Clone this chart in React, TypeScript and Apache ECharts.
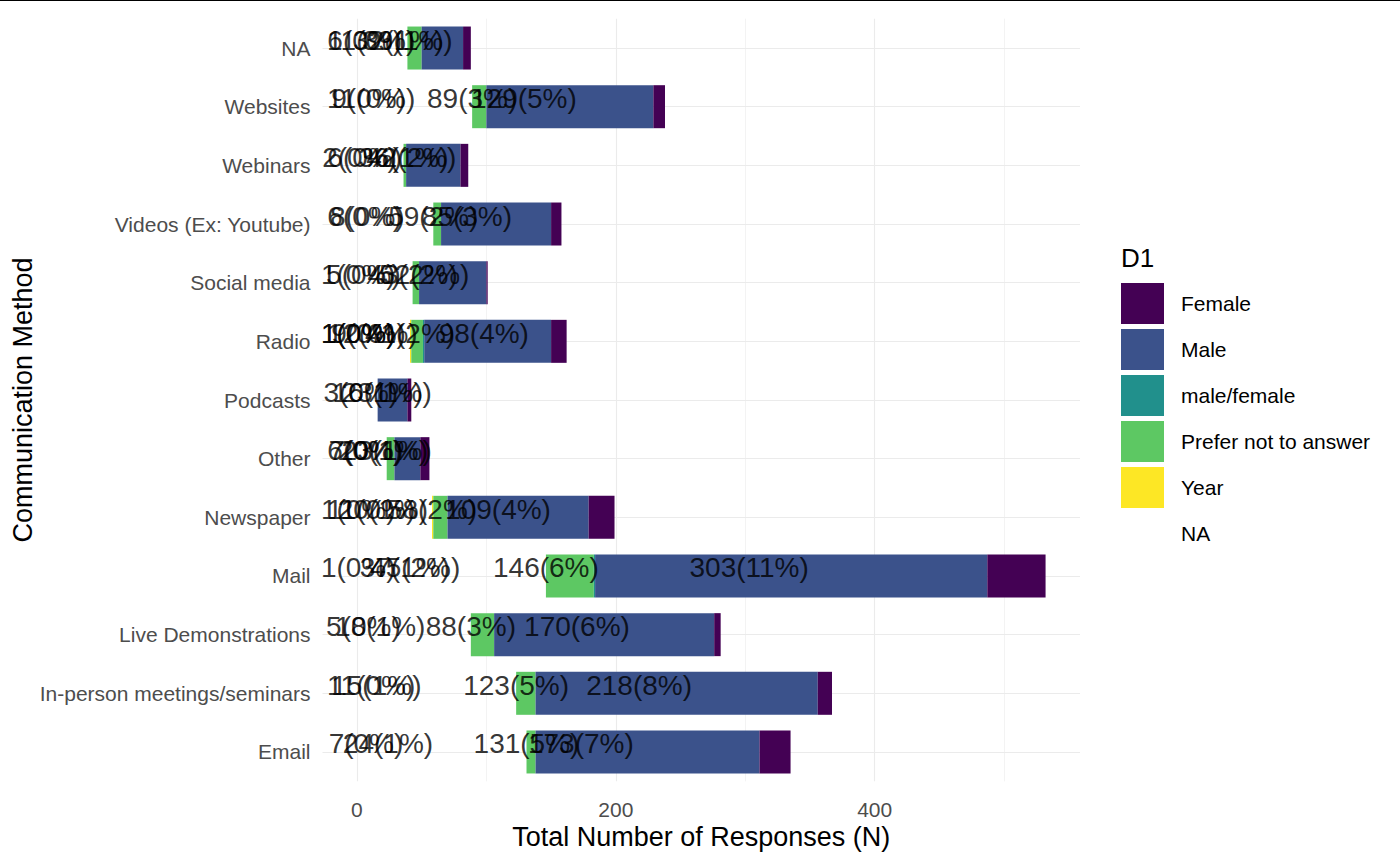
import React, { useEffect, useRef } from "react";
import * as echarts from "echarts";

// Categories, bottom to top
const categories = [
  "Email",
  "In-person meetings/seminars",
  "Live Demonstrations",
  "Mail",
  "Newspaper",
  "Other",
  "Podcasts",
  "Radio",
  "Social media",
  "Videos (Ex: Youtube)",
  "Webinars",
  "Websites",
  "NA",
];

// Counts per D1 group (stacked left to right: NA, Year, Prefer, male/female, Male, Female)
const naCounts = [131, 123, 88, 146, 58, 23, 16, 41, 43, 59, 36, 89, 39];
const yearCounts = [0, 0, 0, 0, 1, 0, 0, 1, 0, 0, 0, 0, 0];
const preferCounts = [7, 15, 18, 37, 11, 6, 0, 9, 5, 6, 2, 11, 11];
const mfCounts = [0, 0, 0, 1, 0, 0, 0, 1, 0, 0, 0, 0, 0];
const maleCounts = [173, 218, 170, 303, 109, 20, 23, 98, 52, 85, 42, 129, 32];
const femaleCounts = [24, 11, 5, 45, 20, 7, 3, 12, 1, 8, 6, 9, 6];

// Percent labels per group
const naPct = [5, 5, 3, 6, 2, 1, 1, 2, 2, 2, 1, 3, 1];
const yearPct = [0, 0, 0, 0, 0, 0, 0, 0, 0, 0, 0, 0, 0];
const preferPct = [0, 1, 1, 1, 0, 0, 0, 0, 0, 0, 0, 0, 0];
const mfPct = [0, 0, 0, 0, 0, 0, 0, 0, 0, 0, 0, 0, 0];
const malePct = [7, 8, 6, 11, 4, 1, 1, 4, 2, 3, 2, 5, 1];
const femalePct = [1, 0, 0, 2, 1, 0, 0, 0, 0, 0, 0, 0, 0];

const xTickLabels = [0, 200, 400];
const xMinorGrid = [100, 300, 500];
const legendOrder = ["Female", "Male", "male/female", "Prefer not to answer", "Year", "NA"];

const FONT = 'Arial, "Liberation Sans", Helvetica, sans-serif';

const groups = [
  { name: "NA", counts: naCounts, pcts: naPct, color: "rgba(0,0,0,0)" },
  { name: "Year", counts: yearCounts, pcts: yearPct, color: "#FDE725" },
  { name: "Prefer not to answer", counts: preferCounts, pcts: preferPct, color: "#5DC863" },
  { name: "male/female", counts: mfCounts, pcts: mfPct, color: "#21908C" },
  { name: "Male", counts: maleCounts, pcts: malePct, color: "#3B528B" },
  { name: "Female", counts: femaleCounts, pcts: femalePct, color: "#440154" },
];

export default function App() {
  const ref = useRef<HTMLDivElement>(null);

  useEffect(() => {
    if (!ref.current) return;
    const chart = echarts.init(ref.current, null, { renderer: "svg" });

    const gridColor = "#EBEBEB";
    const markData: any[] = [
      ...xTickLabels.map((v) => ({ xAxis: v, lineStyle: { width: 1.1, color: gridColor, type: "solid" } })),
      ...xMinorGrid.map((v) => ({ xAxis: v, lineStyle: { width: 0.6, color: gridColor, type: "solid" } })),
      ...categories.map((c) => ({ yAxis: c, lineStyle: { width: 1.1, color: gridColor, type: "solid" } })),
    ];

    const barSeries = groups.map((g, gi) => ({
      type: "bar",
      name: g.name,
      stack: "total",
      barWidth: 43,
      silent: true,
      z: 2,
      itemStyle: { color: g.color },
      data: g.counts,
      ...(gi === 0
        ? {
            markLine: {
              silent: true,
              symbol: ["none", "none"],
              label: { show: false },
              z: 1,
              data: markData,
            },
          }
        : {}),
    }));

    const labelData: any[] = [];
    groups.forEach((g) => {
      g.counts.forEach((v, i) => {
        if (v > 0) {
          labelData.push({ name: `${v}(${g.pcts[i]}%)`, value: [v, categories[i]] });
        }
      });
    });

    const labelSeries = {
      type: "scatter",
      name: "labels",
      symbolSize: 0,
      silent: true,
      z: 10,
      data: labelData,
      label: {
        show: true,
        position: "inside",
        formatter: "{b}",
        color: "#000",
        fontSize: 28,
        fontFamily: FONT,
      },
      labelLayout: { hideOverlap: false, dy: -8 },
    };

    chart.setOption({
      animation: false,
      backgroundColor: "#fff",
      textStyle: { fontFamily: FONT },
      grid: {
        left: 322.5,
        right: 320,
        top: 18.7,
        bottom: 83.7,
        outerBoundsMode: "none",
      },
      xAxis: {
        type: "value",
        min: -26.6,
        max: 558.6,
        axisLine: { show: false },
        axisTick: { show: false },
        splitLine: { show: false },
        axisLabel: {
          customValues: xTickLabels,
          fontSize: 21,
          color: "#4D4D4D",
          margin: 18,
          fontFamily: FONT,
        },
        name: "Total Number of Responses (N)",
        nameLocation: "middle",
        nameGap: 42,
        nameMoveOverlap: false,
        nameTextStyle: { fontSize: 27, color: "#000", fontFamily: FONT },
      },
      yAxis: {
        type: "category",
        data: categories,
        axisLine: { show: false },
        axisTick: { show: false },
        splitLine: { show: false },
        axisLabel: {
          fontSize: 21,
          color: "#4D4D4D",
          margin: 12,
          fontFamily: FONT,
        },
        name: "Communication Method",
        nameLocation: "middle",
        nameRotate: 90,
        nameGap: 286,
        nameMoveOverlap: false,
        nameTextStyle: { fontSize: 27, color: "#000", fontFamily: FONT },
      },
      legend: {
        orient: "vertical",
        left: 1121,
        top: 283,
        padding: 0,
        itemWidth: 43,
        itemHeight: 41,
        itemGap: 5,
        icon: "rect",
        selectedMode: false,
        data: legendOrder,
        textStyle: { fontSize: 21, color: "#000", fontFamily: FONT, padding: [0, 0, 0, 12] },
      },
      graphic: [
        {
          type: "text",
          left: 1121,
          top: 245,
          style: { text: "D1", fontSize: 26, fill: "#000", font: `26px ${FONT}` },
        },
        {
          type: "rect",
          shape: { x: 0, y: 0, width: 1400, height: 1 },
          style: { fill: "#000" },
        },
      ],
      series: [...barSeries, labelSeries],
    });

    return () => chart.dispose();
  }, []);

  return (
    <div
      ref={ref}
      style={{ position: "fixed", left: 0, top: 0, width: 1400, height: 865, background: "#fff" }}
    />
  );
}
